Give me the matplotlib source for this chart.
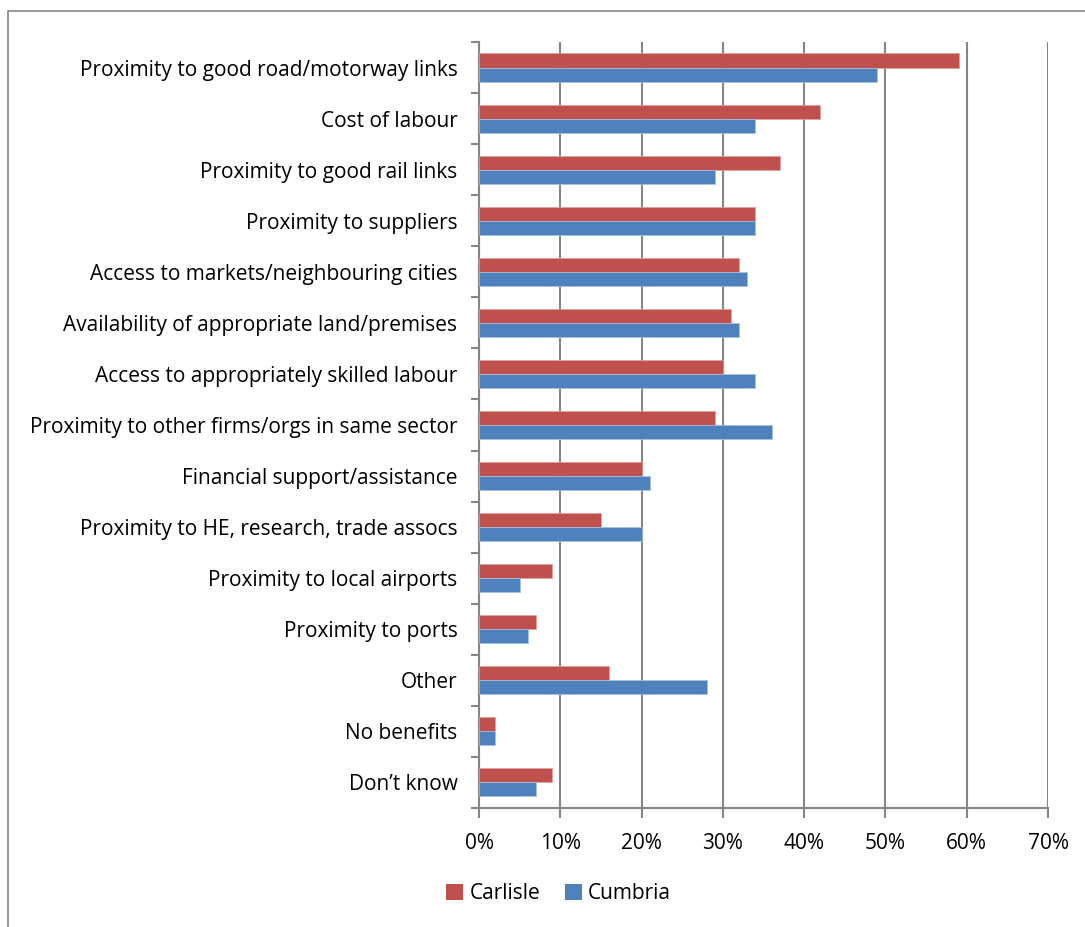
import numpy as np
import matplotlib.pyplot as plt
from matplotlib.patches import Patch, Rectangle
from matplotlib.ticker import FuncFormatter

categories = [
    "Proximity to good road/motorway links",
    "Cost of labour",
    "Proximity to good rail links",
    "Proximity to suppliers",
    "Access to markets/neighbouring cities",
    "Availability of appropriate land/premises",
    "Access to appropriately skilled labour",
    "Proximity to other firms/orgs in same sector",
    "Financial support/assistance",
    "Proximity to HE, research, trade assocs",
    "Proximity to local airports",
    "Proximity to ports",
    "Other",
    "No benefits",
    "Don\u2019t know",
]
carlisle = [59, 42, 37, 34, 32, 31, 30, 29, 20, 15, 9, 7, 16, 2, 9]
cumbria = [49, 34, 29, 34, 33, 32, 34, 36, 21, 20, 5, 6, 28, 2, 7]

RED = "#C0504D"
BLUE = "#4F81BD"
GRID = "#868686"
FS = 15

plt.rcParams['font.family'] = ['Open Sans', 'DejaVu Sans']

fig = plt.figure(figsize=(10.85, 9.27), dpi=100)
ax = fig.add_axes([0.4415, 0.1284, 0.5244, 0.8263])

# outer chart frame
fig.patches.append(Rectangle((0.0075, -0.05), 1.5, 1.038, transform=fig.transFigure,
                             fill=False, edgecolor=GRID, linewidth=1.2))

n = len(categories)
y = np.arange(n)
h = 0.275
ax.barh(y - h / 2, carlisle, height=h, color=RED, edgecolor="#E0A09E", linewidth=0.5, zorder=3)
ax.barh(y + h / 2, cumbria, height=h, color=BLUE, edgecolor="#A9C1E0", linewidth=0.5, zorder=3)

ax.set_ylim(n - 0.5, -0.5)
ax.set_xlim(0, 70)
ax.set_xticks(range(0, 71, 10))
ax.xaxis.set_major_formatter(FuncFormatter(lambda v, p: f"{v:.0f}%"))
ax.set_yticks(y)
ax.set_yticklabels(categories)
ax.set_yticks(np.arange(n + 1) - 0.5, minor=True)

ax.tick_params(axis='y', which='major', length=0, pad=15.5, labelsize=FS)
ax.tick_params(axis='y', which='minor', length=6, width=1.5, color=GRID)
ax.tick_params(axis='x', length=7, width=1.5, color=GRID, pad=11, labelsize=FS)

ax.grid(axis='x', color=GRID, linewidth=1.5, zorder=0)
ax.set_axisbelow(True)
for side in ['top', 'right']:
    ax.spines[side].set_visible(False)
for side in ['left', 'bottom']:
    ax.spines[side].set_color(GRID)
    ax.spines[side].set_linewidth(1.5)

handles = [Patch(facecolor=RED, label="Carlisle"), Patch(facecolor=BLUE, label="Cumbria")]
fig.legend(handles=handles, loc='center', bbox_to_anchor=(0.515, 0.036), ncol=2, frameon=False,
           fontsize=FS, handlelength=0.8, handleheight=0.8, handletextpad=0.3, columnspacing=1.2)

fig.savefig("out.png", dpi=100)
